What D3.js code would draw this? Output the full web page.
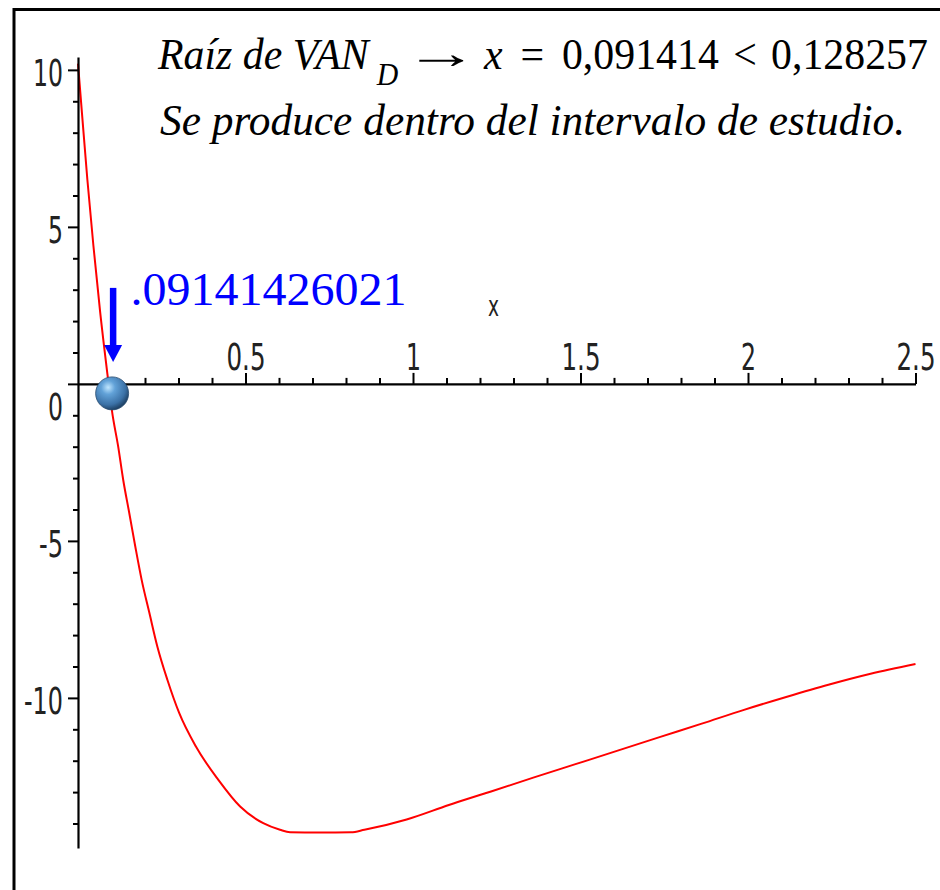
<!DOCTYPE html>
<html><head><meta charset="utf-8">
<script src="https://cdn.jsdelivr.net/npm/d3@7"></script>
<style>body{margin:0;background:#fff;} svg{display:block}</style>
</head><body><svg id="c" width="940" height="890"></svg>
<script>
// ---- data ----
const curveX = [0, 0.012, 0.028, 0.046, 0.066, 0.0914, 0.101, 0.120, 0.135, 0.153, 0.171, 0.190, 0.213, 0.237, 0.267, 0.302, 0.352, 0.419, 0.484, 0.553, 0.603, 0.633, 0.722, 0.815, 0.855, 0.981, 1.107, 1.233, 1.359, 1.485, 1.611, 1.736, 1.862, 1.988, 2.114, 2.240, 2.366, 2.5];
const curveY = [10.2, 8.6, 6.5, 4.4, 2.3, 0, -0.83, -2.00, -3.06, -4.11, -5.18, -6.24, -7.29, -8.37, -9.43, -10.48, -11.55, -12.61, -13.46, -13.99, -14.20, -14.28, -14.29, -14.28, -14.20, -13.87, -13.41, -12.98, -12.54, -12.11, -11.68, -11.25, -10.82, -10.38, -9.97, -9.58, -9.23, -8.92];
const xMajorTicks = [0.5, 1, 1.5, 2, 2.5];
const xTickLabels = ["0.5", "1", "1.5", "2", "2.5"];
const yMajorTicks = [10, 5, 0, -5, -10];
const yTickLabels = ["10", "5", "0", "-5", "-10"];
const xDomain = [0, 2.5];
const yDomain = [-14.78, 10.41];
const rootValue = 0.09141426021;
const rootLabel = ".09141426021";
const axisLabel = "x";
const line1Parts = ["Raíz de VAN", "D", "\u2192", "x", "=", "0,091414", "<", "0,128257"];
const line2Text = "Se produce dentro del intervalo de estudio.";

// ---- drawing ----
const svg = d3.select("#c");
const x = d3.scaleLinear().domain(xDomain).range([78, 915.5]);
const y = d3.scaleLinear().domain(yDomain).range([848, 57]);

// frame
svg.append("rect").attr("x", 14).attr("y", 9.5).attr("width", 1000).attr("height", 1000)
  .attr("fill", "none").attr("stroke", "#000").attr("stroke-width", 3);

const tickFont = "'Liberation Sans Narrow','Arial Narrow','DejaVu Sans Condensed',sans-serif";
const labelLen = s => { let w = 0; for (const c of s) w += (c === "-" || c === ".") ? 9 : 15; return w; };

// curve (drawn first so axes sit on top, as in the reference)
const pts = curveX.map((v, i) => [v, curveY[i]]);
svg.append("path").datum(pts)
  .attr("d", d3.line().x(d => x(d[0])).y(d => y(d[1])).curve(d3.curveMonotoneX))
  .attr("fill", "none").attr("stroke", "#ff0000").attr("stroke-width", 2);

// y axis
const yMinor = d3.range(-14, 11, 1).filter(v => !yMajorTicks.includes(v));
const yAxisG = svg.append("g").attr("transform", `translate(${x(0)},0)`);
yAxisG.call(d3.axisLeft(y).tickValues(yMajorTicks).tickSize(10).tickSizeOuter(0).tickFormat((d, i) => yTickLabels[i]));
yAxisG.select(".domain").attr("stroke-width", 2.2);
yAxisG.selectAll(".tick line").attr("stroke-width", 2);
yAxisG.selectAll(".tick text").attr("font-family", tickFont).attr("font-size", 37).attr("fill", "#222")
  .attr("x", -15).attr("dy", (d) => d === 0 ? "0.95em" : "0.42em")
  .attr("textLength", function () { return labelLen(this.textContent); }).attr("lengthAdjust", "spacingAndGlyphs");
const yMinorG = svg.append("g").attr("transform", `translate(${x(0)},0)`);
yMinorG.call(d3.axisLeft(y).tickValues(yMinor).tickSize(5).tickFormat(""));
yMinorG.select(".domain").remove();
yMinorG.selectAll(".tick line").attr("stroke-width", 2);

// x axis (ticks point up, labels above)
const xMinor = d3.range(1, 25).map(v => v / 10).filter(v => !xMajorTicks.some(m => Math.abs(m - v) < 1e-9));
const xAxisG = svg.append("g").attr("transform", `translate(0,${y(0)})`);
xAxisG.call(d3.axisTop(x).tickValues(xMajorTicks).tickSize(11).tickSizeOuter(0).tickFormat((d, i) => xTickLabels[i]));
xAxisG.select(".domain").attr("stroke-width", 2.2);
xAxisG.selectAll(".tick line").attr("stroke-width", 2);
xAxisG.selectAll(".tick text").attr("font-family", tickFont).attr("font-size", 37).attr("fill", "#222")
  .attr("y", -14).attr("dy", 0)
  .attr("textLength", function () { return labelLen(this.textContent); }).attr("lengthAdjust", "spacingAndGlyphs");
const xMinorG = svg.append("g").attr("transform", `translate(0,${y(0)})`);
xMinorG.call(d3.axisTop(x).tickValues(xMinor).tickSize(6).tickFormat(""));
xMinorG.select(".domain").remove();
xMinorG.selectAll(".tick line").attr("stroke-width", 2);

// axis name
svg.append("text").attr("x", x(1.24)).attr("y", y(0) - 68).attr("text-anchor", "middle")
  .attr("font-family", tickFont).attr("font-size", 28).attr("fill", "#222")
  .attr("textLength", 11).attr("lengthAdjust", "spacingAndGlyphs").text(axisLabel);

// root marker: sphere
const defs = svg.append("defs");
const g = defs.append("radialGradient").attr("id", "ball").attr("cx", "38%").attr("cy", "32%").attr("r", "70%");
g.append("stop").attr("offset", "0%").attr("stop-color", "#bfe6ff");
g.append("stop").attr("offset", "30%").attr("stop-color", "#62a2d8");
g.append("stop").attr("offset", "75%").attr("stop-color", "#3b71a6");
g.append("stop").attr("offset", "100%").attr("stop-color", "#1d3f62");
svg.append("circle").attr("cx", x(rootValue) + 3.5).attr("cy", y(0) + 9.5).attr("r", 16.5)
  .attr("fill", "url(#ball)").attr("stroke", "#2a4c70").attr("stroke-width", 0.8);

// arrow
const ax = x(rootValue) + 4.5;
svg.append("line").attr("x1", ax).attr("x2", ax).attr("y1", y(0) - 96).attr("y2", y(0) - 36)
  .attr("stroke", "#0000ff").attr("stroke-width", 6.5);
svg.append("path").attr("d", `M${ax - 9},${y(0) - 39} L${ax + 9},${y(0) - 39} L${ax},${y(0) - 22} Z`).attr("fill", "#0000ff");

// root label
svg.append("text").attr("x", x(rootValue) + 22).attr("y", y(0) - 79)
  .attr("font-family", "'Liberation Serif','Times New Roman',serif").attr("font-size", 46)
  .attr("fill", "#0000ff").attr("textLength", 276).attr("lengthAdjust", "spacingAndGlyphs").text(rootLabel);

// title line 1: pieces laid out left to right, gaps stretched to fit the reference width
const serif = "'Liberation Serif','Times New Roman',serif";
const squeeze = 0.93;
const partStyle = [
  {it: true, size: 45, dy: 0, gap: 0},
  {it: true, size: 32, dy: 16, gap: 0.45},
  {it: false, size: 45, dy: -1, gap: 1, w: 50, glyphScale: 1.65},
  {it: true, size: 45, dy: 0, gap: 1},
  {it: false, size: 45, dy: 0, gap: 1},
  {it: false, size: 45, dy: 0, gap: 1},
  {it: false, size: 45, dy: 0, gap: 0.8},
  {it: false, size: 45, dy: 0, gap: 0.8}
];
const startX = 158, endX = 928, base1 = 69;
const nodes = line1Parts.map((t, i) => {
  const p = partStyle[i];
  return svg.append("text").attr("font-family", serif).attr("font-size", p.size)
    .attr("font-style", p.it ? "italic" : "normal").attr("fill", "#000").text(t);
});
const natural = nodes.map(n => n.node().getComputedTextLength());
const widths = natural.map((w, i) => partStyle[i].w || w * squeeze);
const totalGap = (endX - startX) - d3.sum(widths);
const gapUnits = d3.sum(partStyle, p => p.gap);
let cx = startX;
nodes.forEach((n, i) => {
  const p = partStyle[i];
  cx += p.gap * totalGap / gapUnits;
  if (p.glyphScale) {
    n.attr("text-anchor", "middle")
      .attr("transform", `translate(${cx + widths[i] / 2},${base1 + p.dy}) scale(${p.glyphScale},1)`);
  } else {
    n.attr("transform", `translate(${cx},${base1 + p.dy}) scale(${widths[i] / natural[i]},1)`);
  }
  cx += widths[i];
});

svg.append("text").attr("x", 160).attr("y", 135).attr("font-family", serif).attr("font-size", 45)
  .attr("font-style", "italic").attr("fill", "#000").attr("textLength", 745).attr("lengthAdjust", "spacingAndGlyphs")
  .text(line2Text);
</script></body></html>
